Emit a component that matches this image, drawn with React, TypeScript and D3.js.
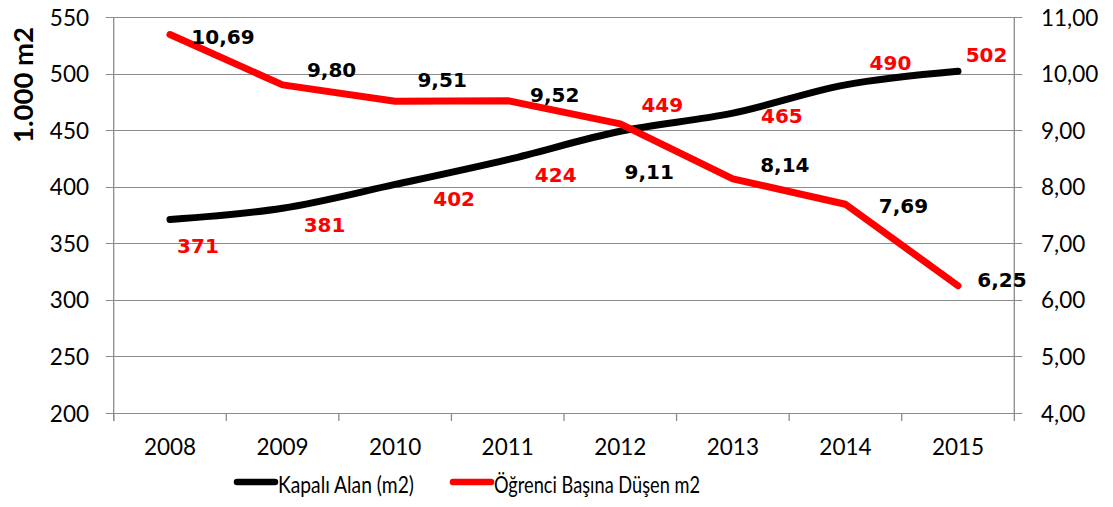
import React from "react";
import * as d3 from "d3";

const years = ["2008", "2009", "2010", "2011", "2012", "2013", "2014", "2015"];
const kapaliAlan = [371, 381, 402, 424, 449, 465, 490, 502];
const ogrenciBasina = [10.69, 9.8, 9.51, 9.52, 9.11, 8.14, 7.69, 6.25];
const leftTicks = [200, 250, 300, 350, 400, 450, 500, 550];
const rightTicks = [4, 5, 6, 7, 8, 9, 10, 11];

// label offsets (styling) relative to their points
const areaLabelDx = [28, 42, 59, 48, 42, 49, 45, 28.5];
const areaLabelDy = [26, 17, 15, 15, -26, 3, -22, -16];
const perLabelDx = [53, 49, 47, 47, 29, 52, 58, 44];
const perLabelDy = [2, -15, -21, -6, 48, -14, 2, -6];

const W = 1113;
const H = 507;
const left = 113.7;
const right = 1014.3;
const top = 17;
const bottom = 413;

const fmt = (v: number) => v.toFixed(2).replace(".", ",");

export default function App() {
  const x = d3.scaleBand<string>().domain(years).range([left, right]);
  const cx = (y: string) => (x(y) as number) + x.bandwidth() / 2;
  const yL = d3.scaleLinear().domain([200, 550]).range([bottom, top]);
  const yR = d3.scaleLinear().domain([4, 11]).range([bottom, top]);

  const lineL = d3
    .line<number>()
    .x((_, i) => cx(years[i]))
    .y((d) => yL(d))
    .curve(d3.curveCatmullRom.alpha(0.5));
  const lineR = d3
    .line<number>()
    .x((_, i) => cx(years[i]))
    .y((d) => yR(d))
    .curve(d3.curveLinear);

  const grid = "#8c8c8c";
  const tickFont = "Lato, 'Open Sans', sans-serif";
  const labelFont = "'DejaVu Sans', sans-serif";

  return (
    <svg
      width={W}
      height={H}
      style={{ position: "absolute", left: 0, top: 0, background: "#fff" }}
    >
      <rect width={W} height={H} fill="#fff" />
      {leftTicks.map((t) => (
        <line
          key={"g" + t}
          x1={left - 8}
          x2={right + 8}
          y1={Math.round(yL(t)) + 0.5}
          y2={Math.round(yL(t)) + 0.5}
          stroke={grid}
          strokeWidth={1}
        />
      ))}
      <line x1={left} x2={left} y1={top} y2={bottom + 8} stroke={grid} strokeWidth={1.3} />
      <line x1={right} x2={right} y1={top} y2={bottom + 8} stroke={grid} strokeWidth={1.3} />
      {years.map((y) => (
        <line
          key={"xt" + y}
          x1={x(y) as number}
          x2={x(y) as number}
          y1={bottom}
          y2={bottom + 8}
          stroke={grid}
          strokeWidth={1.3}
        />
      ))}
      {leftTicks.map((t) => (
        <text
          key={"lt" + t}
          x={89}
          y={yL(t)}
          textAnchor="end"
          dominantBaseline="central"
          fontFamily={tickFont}
          fontSize={22.5}
          fill="#000"
        >
          {t}
        </text>
      ))}
      {rightTicks.map((t) => (
        <text
          key={"rt" + t}
          x={1041}
          y={yR(t)}
          textAnchor="start"
          dominantBaseline="central"
          fontFamily={tickFont}
          fontSize={22.5}
          fill="#000"
        >
          {fmt(t)}
        </text>
      ))}
      {years.map((y) => (
        <text
          key={"xl" + y}
          x={cx(y)}
          y={446}
          textAnchor="middle"
          dominantBaseline="central"
          fontFamily={tickFont}
          fontSize={22.5}
          fill="#000"
        >
          {y}
        </text>
      ))}
      <text
        transform="translate(22,85) rotate(-90)"
        textAnchor="middle"
        dominantBaseline="central"
        fontFamily={tickFont}
        fontWeight="bold"
        fontSize={27}
        textLength={116}
        lengthAdjust="spacingAndGlyphs"
        fill="#000"
      >
        1.000 m2
      </text>
      <path
        d={lineL(kapaliAlan) as string}
        fill="none"
        stroke="#000"
        strokeWidth={7}
        strokeLinecap="round"
        strokeLinejoin="round"
      />
      <path
        d={lineR(ogrenciBasina) as string}
        fill="none"
        stroke="#ff0000"
        strokeWidth={7}
        strokeLinecap="round"
        strokeLinejoin="round"
      />
      {kapaliAlan.map((v, i) => (
        <text
          key={"al" + i}
          x={cx(years[i]) + areaLabelDx[i]}
          y={yL(v) + areaLabelDy[i]}
          textAnchor="middle"
          dominantBaseline="central"
          fontFamily={labelFont}
          fontWeight="bold"
          fontSize={20}
          fill="#ff0000"
        >
          {v}
        </text>
      ))}
      {ogrenciBasina.map((v, i) => (
        <text
          key={"pl" + i}
          x={cx(years[i]) + perLabelDx[i]}
          y={yR(v) + perLabelDy[i]}
          textAnchor="middle"
          dominantBaseline="central"
          fontFamily={labelFont}
          fontWeight="bold"
          fontSize={20}
          fill="#000"
        >
          {fmt(v)}
        </text>
      ))}
      <line x1={237} x2={275} y1={482} y2={482} stroke="#000" strokeWidth={6.5} strokeLinecap="round" />
      <text
        x={278}
        y={483}
        dominantBaseline="central"
        fontFamily={tickFont}
        fontSize={24}
        textLength={136}
        lengthAdjust="spacingAndGlyphs"
        fill="#000"
      >
        Kapalı Alan (m2)
      </text>
      <line x1={453} x2={491} y1={482} y2={482} stroke="#ff0000" strokeWidth={6.5} strokeLinecap="round" />
      <text
        x={494}
        y={483}
        dominantBaseline="central"
        fontFamily={tickFont}
        fontSize={24}
        textLength={206}
        lengthAdjust="spacingAndGlyphs"
        fill="#000"
      >
        Öğrenci Başına Düşen m2
      </text>
    </svg>
  );
}
